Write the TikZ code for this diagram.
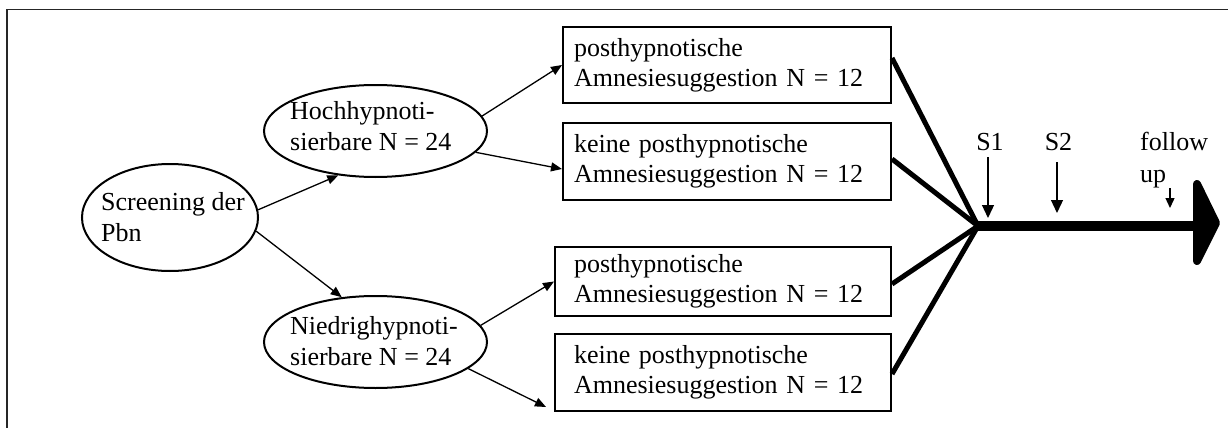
\documentclass[tikz,border=0pt]{standalone}
\usepackage{fontspec}
\setmainfont{Liberation Serif}
\usetikzlibrary{arrows.meta,shapes.geometric}

\begin{document}
\begin{tikzpicture}[x=1pt,y=-1pt,
  every node/.style={font=\fontsize{26}{30}\selectfont},
  frame/.style={line width=1.5pt, draw=black!85},
  oval/.style={draw, ellipse, line width=2pt, inner sep=0pt},
  lbl/.style={align=left, inner sep=0pt, anchor=north west, font=\fontsize{26}{31}\selectfont},
  group/.style={draw, rectangle, line width=2pt, anchor=north west, align=left,
                inner xsep=11pt, inner ysep=0pt},
  thinarrow/.style={line width=1.3pt, -{Triangle[length=11pt,width=9pt]}},
  merge/.style={line width=5pt},
  tick/.style={line width=1.3pt, -{Triangle[length=13pt,width=12pt]}},
  smalltick/.style={line width=1.3pt, -{Triangle[length=10pt,width=9pt]}}
]
\useasboundingbox (0,0) rectangle (1228,428);

% outer frame (only top and left edges fall inside the page)
\draw[frame] (1250,9.3) -- (7,9.3) -- (7,450);

% ellipses
\node[oval, minimum width=176pt, minimum height=107pt] (scr) at (170,217.5) {};
\node[oval, minimum width=223pt, minimum height=92pt] (hoch) at (375.5,131) {};
\node[oval, minimum width=223pt, minimum height=92pt] (nied) at (375.5,342) {};

\node[lbl] (scrtxt) at (101,192.2) {Screening der\\Pbn};
\node[lbl] (hochtxt) at (290,101.2) {Hochhypnoti-\\sierbare N = 24};
\node[lbl] (niedtxt) at (290,316.2) {Niedrighypnoti-\\sierbare N = 24};

% group boxes
\node[group, text width=306pt, minimum height=76pt] (b1) at (562,26)
  {posthypnotische\\Amnesiesuggestion N = 12};
\node[group, text width=306pt, minimum height=77pt] (b2) at (562,122)
  {keine posthypnotische\\Amnesiesuggestion N = 12};
\node[group, text width=314pt, minimum height=69pt] (b3) at (554,246)
  {\hspace*{8pt}posthypnotische\\\hspace*{8pt}Amnesiesuggestion N = 12};
\node[group, text width=314pt, minimum height=77pt] (b4) at (554,333)
  {\hspace*{8pt}keine posthypnotische\\\hspace*{8pt}Amnesiesuggestion N = 12};

% thin arrows
\draw[thinarrow] (scr.5) -- (hoch.230);
\draw[thinarrow] (scr.-9) -- (nied.127);
\draw[thinarrow] (hoch.8.7) -- (b1.west);
\draw[thinarrow] (hoch.-12.5) -- ([yshift=-7.5pt]b2.west);
\draw[thinarrow] (nied.9.2) -- (b3.west);
\coordinate (n4end) at (546,407);
\draw[thinarrow] (nied.-16) -- (n4end);

% merging lines into the time axis
\coordinate (j) at (978,226);
\draw[merge] ([yshift=7pt]b1.east) -- (j);
\draw[merge] ([yshift=2.5pt]b2.east) -- (j);
\draw[merge] ([yshift=-2.5pt]b3.east) -- (j);
\draw[merge] ([yshift=-1.5pt]b4.east) -- (j);

% time axis with large head
\coordinate (hb) at (1193,226);
\draw[line width=9.3pt] (j) -- (hb);
\filldraw[line width=8pt, line join=round] (1197,184) -- (1197,261) -- (1216,223) -- cycle;

% measurement points
\node[inner sep=0pt, anchor=base] (s1) at (990,150) {S1};
\node[inner sep=0pt, anchor=base] (s2) at (1058.5,150) {S2};
\node[lbl, font=\fontsize{26}{32}\selectfont] (fu) at (1140,132.2) {follow\\up};
\coordinate (t1) at (988,218);
\coordinate (t2) at (1057,213);
\coordinate (t3) at (1170,208);
\draw[tick, shorten <=7pt] (t1 |- s1.south) -- (t1);
\draw[tick, shorten <=12pt] (t2 |- s2.south) -- (t2);
\draw[smalltick] (t3 |- fu.south) -- (t3);
\end{tikzpicture}
\end{document}
